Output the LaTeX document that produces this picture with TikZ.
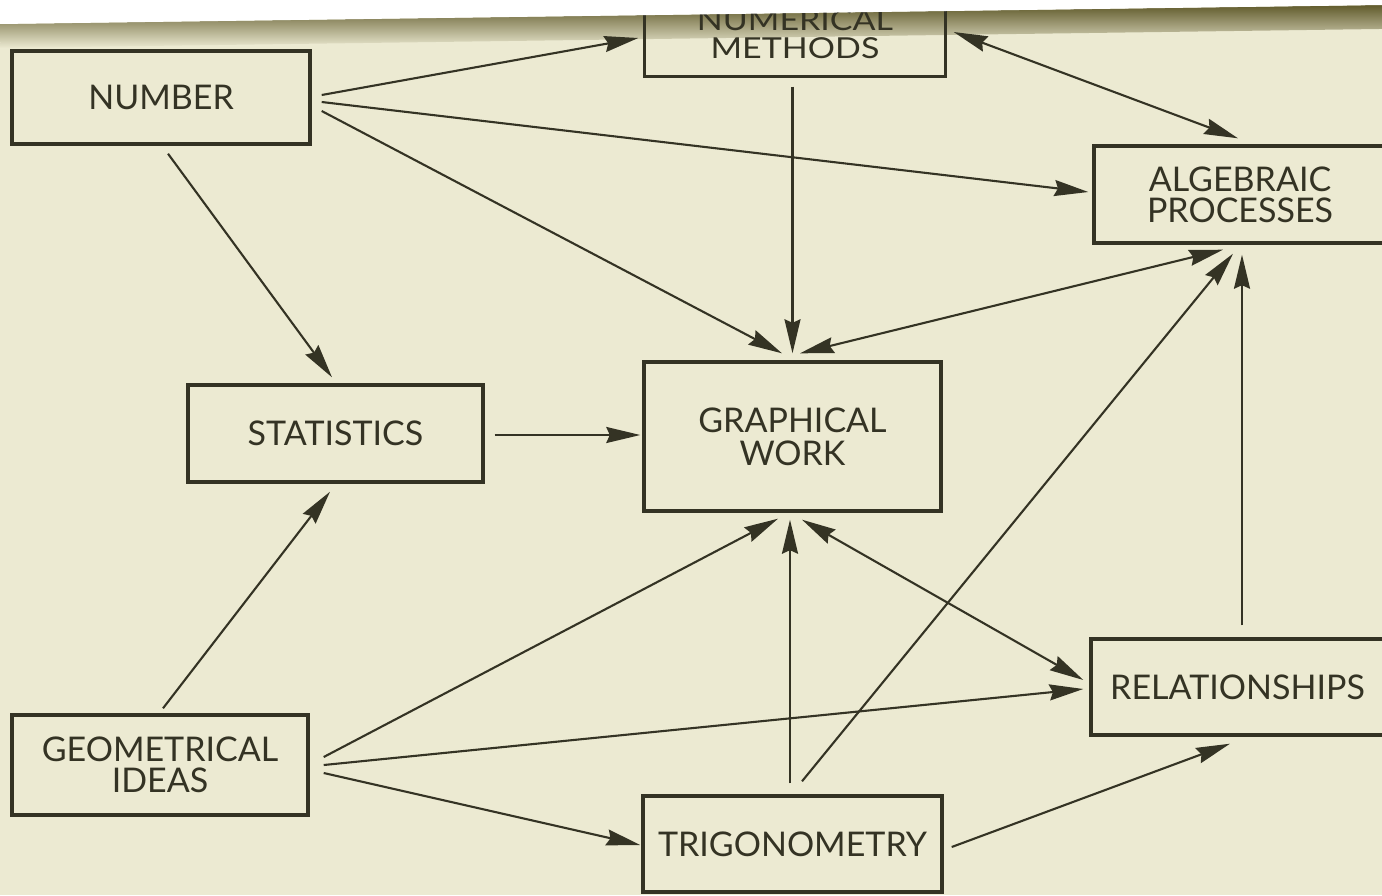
\documentclass[tikz,border=0pt]{standalone}
\usepackage{fontspec}
\setmainfont{Lato}
\usetikzlibrary{arrows.meta,calc}
\definecolor{bg}{RGB}{236,234,210}
\definecolor{ink}{RGB}{52,51,36}
\definecolor{edge}{RGB}{95,89,42}
\begin{document}
\begin{tikzpicture}[x=1pt,y=-1pt,
  tbox/.style={draw=ink, line width=3.4pt, text=ink, align=center,
    font=\fontsize{34}{31}\selectfont, inner sep=0pt},
  arr/.style={draw=ink, line width=2.1pt,
    -{Stealth[length=34pt,width=16pt,inset=3.5pt]}},
  darr/.style={draw=ink, line width=2.1pt,
    {Stealth[length=34pt,width=16pt,inset=3.5pt]}-{Stealth[length=34pt,width=16pt,inset=3.5pt]}}
  ]
\useasboundingbox (0,0) rectangle (1382,895);
\fill[bg] (0,0) rectangle (1382,895);
% page-edge shadow band
\begin{scope}[rotate around={0.79:(0,24)}]
\shade[top color=edge, bottom color=bg] (0,24) rectangle (1420,48);
\end{scope}

% boxes
\node[tbox, minimum width=298pt, minimum height=93pt] (num) at (161,97.5) {NUMBER};
\node[tbox, draw=none, minimum width=298pt, minimum height=74pt] (nm) at (795,38)
  {\scalebox{1}[0.85]{\fontsize{34}{29}\selectfont\begin{tabular}{@{}c@{}}NUMERICAL\\METHODS\end{tabular}}};
\draw[ink, line width=3.4pt] (nm.north west) -- (nm.south west) -- (nm.south east) -- (nm.north east);
\node[tbox, minimum width=292pt, minimum height=97pt] (alg) at (1240,194.5) {ALGEBRAIC\\PROCESSES};
\node[tbox, minimum width=295pt, minimum height=97pt] (stat) at (335.5,433.5) {STATISTICS};
\node[tbox, minimum width=297pt, minimum height=149pt,
  font=\fontsize{34}{33}\selectfont] (gw) at (792.5,436.5) {GRAPHICAL\\WORK};
\node[tbox, minimum width=293pt, minimum height=96pt] (rel) at (1237.5,687) {RELATIONSHIPS};
\node[tbox, minimum width=296pt, minimum height=100pt] (geo) at (160,765) {GEOMETRICAL\\IDEAS};
\node[tbox, minimum width=299pt, minimum height=96pt] (trig) at (792.5,844) {TRIGONOMETRY};

% connectors
\draw[arr] ([shift={(10,-2.5)}]num.east) -- ([shift={(-6,0)}]nm.west);
\draw[arr] ([shift={(10,4.5)}]num.east) -- ([shift={(-4,-2.5)}]alg.west);
\draw[arr] ([shift={(10,13.5)}]num.east) -- ([shift={(-10.5,-7)}]gw.north);
\draw[arr] ([shift={(7,8)}]num.south) -- ([shift={(-3.5,-6)}]stat.north);
\draw[arr] ([shift={(-2.5,10)}]nm.south) -- ([shift={(0,-7)}]gw.north);
\draw[darr] ([shift={(8,-6)}]nm.east) -- ([shift={(-2,-6)}]alg.north);
\draw[darr] ([shift={(7.5,-7)}]gw.north) -- ([shift={(-17,5)}]alg.south);
\draw[arr] ([shift={(10,1.5)}]stat.east) -- ([shift={(-2,-1.5)}]gw.west);
\draw[arr] ([shift={(3,-5)}]geo.north) -- ([shift={(-5.5,8)}]stat.south);
\draw[arr] ([shift={(14,-8)}]geo.east) -- ([shift={(-14.5,6)}]gw.south);
\draw[arr] ([shift={(14,0)}]geo.east) -- ([shift={(-6,2)}]rel.west);
\draw[arr] ([shift={(14,8)}]geo.east) -- ([shift={(-1,1)}]trig.west);
\draw[arr] ([shift={(-2.5,-11)}]trig.north) -- ([shift={(-2.5,7)}]gw.south);
\draw[arr] ([shift={(9.5,-13)}]trig.north) -- ([shift={(-7,9)}]alg.south);
\draw[arr] ([shift={(8,3)}]trig.east) -- ([shift={(-7.5,7)}]rel.south);
\draw[darr] ([shift={(9.5,7)}]gw.south) -- ([shift={(-6,-7)}]rel.west);
\draw[arr] ([shift={(4.5,-12)}]rel.north) -- ([shift={(2,10)}]alg.south);

% paper beyond the page edge
\fill[white] (-1,-1) -- (1383,-1) -- (1383,5) -- (-1,24) -- cycle;
\end{tikzpicture}
\end{document}
